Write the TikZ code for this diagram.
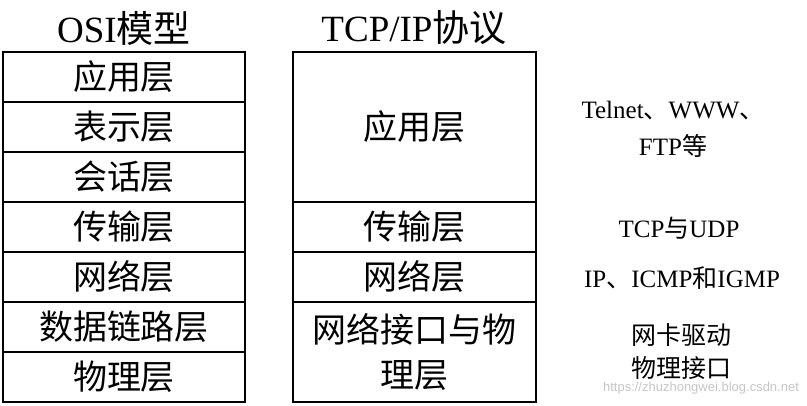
\documentclass[tikz,border=0pt]{standalone}
\usepackage{fontspec}
\setmainfont{Liberation Serif}
\setsansfont{Liberation Sans}
\newfontfamily\cjk{Noto Sans CJK SC}
\begin{document}
\begin{tikzpicture}[x=1pt,y=-1pt]
\tikzstyle{layer_style} = [rectangle, draw=black, line width=1.2pt, inner sep=0pt, align=center, font=\cjk\fontsize{34}{45}\selectfont]
\tikzstyle{osi_style} = [layer_style, minimum width=242pt, minimum height=50pt]
\tikzstyle{tcp_style} = [layer_style, minimum width=243pt]
\tikzstyle{title_style} = [font=\fontsize{37}{40}\selectfont]
\tikzstyle{note_style} = [align=center, font=\fontsize{25}{37}\selectfont]
    \useasboundingbox (0,0) rectangle (807,406);

    \node[title_style] (osi) at (124,28) {OSI{\cjk 模型}};
    \node[title_style] (tcp) at (414,28) {TCP/IP{\cjk 协议}};

    \node[osi_style] (o1) at (124,77) {应用层};
    \node[osi_style] (o2) at (124,127) {表示层};
    \node[osi_style] (o3) at (124,177) {会话层};
    \node[osi_style] (o4) at (124,227) {传输层};
    \node[osi_style] (o5) at (124,277) {网络层};
    \node[osi_style] (o6) at (124,327) {数据链路层};
    \node[osi_style] (o7) at (124,377) {物理层};

    \node[tcp_style, minimum height=150pt] (t1) at (414.5,127) {应用层};
    \node[tcp_style, minimum height=50pt] (t2) at (414.5,227) {传输层};
    \node[tcp_style, minimum height=50pt] (t3) at (414.5,277) {网络层};
    \node[tcp_style, minimum height=100pt] (t4) at (414.5,352) {网络接口与物\\理层};

    \node[note_style] (n1) at (673,129) {Telnet{\cjk 、}WWW{\cjk 、}\\FTP{\cjk 等}};
    \node[note_style] (n2) at (679,228) {TCP{\cjk 与}UDP};
    \node[note_style] (n3) at (682,278) {IP{\cjk 、}ICMP{\cjk 和}IGMP};
    \node[note_style, font=\cjk\fontsize{25}{33}\selectfont] (n4) at (681,352) {网卡驱动\\物理接口};

    \node[font=\sffamily\fontsize{13}{15}\selectfont, text=gray!45] (mark) at (701,388) {https://zhuzhongwei.blog.csdn.net};
\end{tikzpicture}
\end{document}
